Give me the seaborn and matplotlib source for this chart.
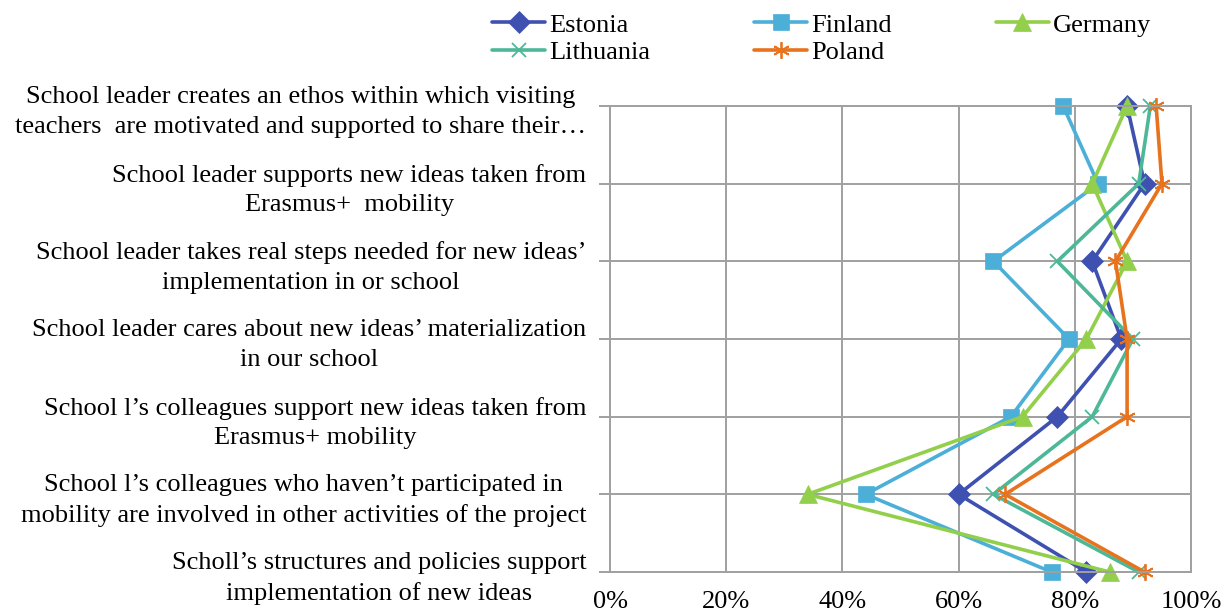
import pandas as pd
import seaborn as sns
import numpy as np
import matplotlib
matplotlib.use('Agg')
import matplotlib.pyplot as plt
from matplotlib.lines import Line2D

# Statements (top to bottom)
statements = [
    "School leader creates an ethos within which visiting\nteachers  are motivated and supported to share their\u2026",
    "School leader supports new ideas taken from\nErasmus+  mobility",
    "School leader takes real steps needed for new ideas\u2019\nimplementation in or school",
    "School leader cares about new ideas\u2019 materialization\nin our school",
    "School l\u2019s colleagues support new ideas taken from\nErasmus+ mobility",
    "School l\u2019s colleagues who haven\u2019t participated in\nmobility are involved in other activities of the project",
    "Scholl\u2019s structures and policies support\nimplementation of new ideas",
]

# share of agreement (%) per country, same order as statements
estonia = [89, 92, 83, 88, 77, 60, 82]
finland = [78, 84, 66, 79, 69, 44, 76]
germany = [89, 83, 89, 82, 71, 34, 86]
lithuania = [93, 91, 77, 90, 83, 66, 91]
poland = [94, 95, 87, 89, 89, 68, 92]

countries = ['Estonia', 'Finland', 'Germany', 'Lithuania', 'Poland']
colors = ['#3F51B0', '#4BAFD8', '#92CF4B', '#4DB898', '#E8731E']
markers = ['D', 's', '^', 'x', (6, 2, 0)]
msizes = [11, 12, 13, 10, 12]

rows = []
for name, vals in zip(countries, [estonia, finland, germany, lithuania, poland]):
    for i, v in enumerate(vals):
        rows.append({'country': name, 'pos': i, 'value': v / 100})
df = pd.DataFrame(rows)

sns.set_style('white')
plt.rcParams['font.family'] = ['Liberation Serif', 'DejaVu Serif']
plt.rcParams['text.color'] = 'black'
fs = 19

fig = plt.figure(figsize=(12.22, 6.14), dpi=100)
ax = fig.add_axes([610 / 1222, 1 - 572 / 614, 581 / 1222, 466 / 614])

for name, c, m, ms in zip(countries, colors, markers, msizes):
    mew = 1.3 if m in ('x', (6, 2, 0)) else 0.5
    sns.lineplot(data=df[df['country'] == name], x='value', y='pos',
                 color=c, marker=m, markersize=ms, markeredgewidth=mew,
                 markeredgecolor=c, orient='y', sort=False, linewidth=2.6,
                 ax=ax, clip_on=False)

ax.set_xlim(0, 1)
ax.set_ylim(len(statements) - 1, 0)
ax.set_xticks(np.arange(0, 1.01, 0.2))
ax.set_xticklabels([f'{int(round(t * 100))}%' for t in np.arange(0, 1.01, 0.2)],
                   fontsize=fs, color='black')
ax.set_yticks(range(len(statements)))
ax.set_yticklabels(statements, fontsize=fs, multialignment='center',
                   color='black', linespacing=1.45)
ax.tick_params(axis='x', length=0, pad=14)
ax.tick_params(axis='y', length=8, width=1.4, color='#A0A0A0', left=True, pad=9)
ax.grid(True, color='#A0A0A0', linewidth=1.4)
for s in ax.spines.values():
    s.set_color('#A0A0A0')
    s.set_linewidth(1.4)
ax.set_xlabel('')
ax.set_ylabel('')

# legend, ordered so the columns read row by row like the original
order = [0, 3, 1, 4, 2]
handles = [Line2D([], [], color=colors[i], marker=markers[i], markersize=msizes[i],
                  linewidth=2.6, markeredgewidth=1.3 if i >= 3 else 0.5)
           for i in order]
fig.legend(handles, [countries[i] for i in order], loc='upper left',
           bbox_to_anchor=(479 / 1222, 1.0), ncol=3, frameon=False, fontsize=fs,
           handlelength=2.0, handletextpad=0.15, columnspacing=3.95,
           labelspacing=0.15, borderaxespad=0.1)

fig.savefig('out.png', dpi=100)
